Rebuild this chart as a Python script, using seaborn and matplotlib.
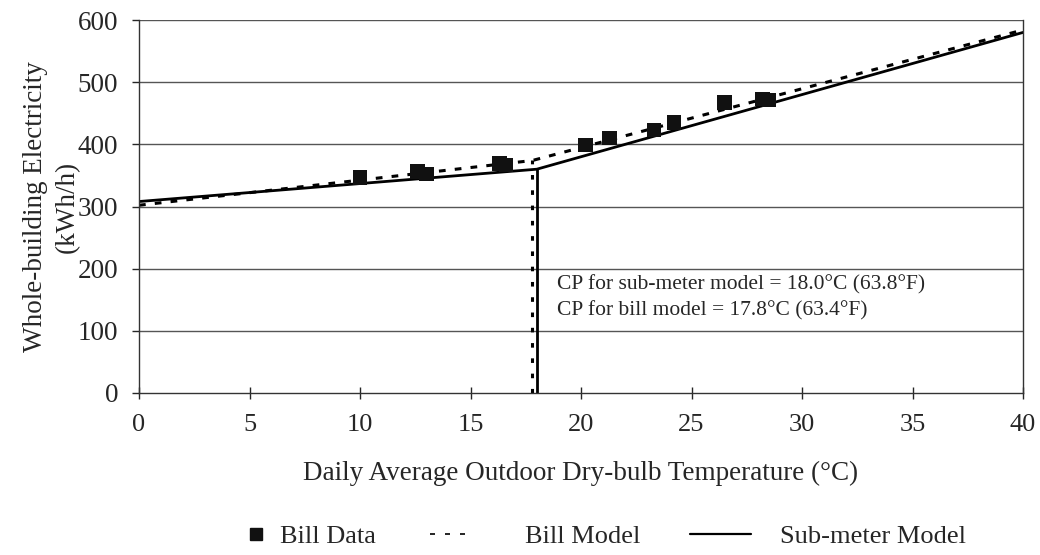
import matplotlib
matplotlib.use('Agg')
import matplotlib.pyplot as plt
import seaborn as sns
import pandas as pd
from matplotlib.lines import Line2D

# bill data points
temps = [10.0, 12.6, 13.0, 16.3, 16.6, 20.2, 21.3, 23.3, 24.2, 26.5, 28.2, 28.5]
kwh = [347, 356, 352, 369, 367, 399, 410, 423, 435, 467, 473, 471]

# change-point models: start, change point, end
sub_x = [0, 18.0, 40]
sub_y = [308, 360, 580]
bill_x = [0, 17.8, 40]
bill_y = [302, 374, 584]

x_ticks = [0, 5, 10, 15, 20, 25, 30, 35, 40]
y_ticks = [0, 100, 200, 300, 400, 500, 600]

sns.set_style('white')
plt.rcParams['font.family'] = ['Liberation Serif', 'DejaVu Serif']

fig = plt.figure(figsize=(10.4, 5.55), dpi=100)
ax = fig.add_axes([139/1040, 1-393/555, (1023-139)/1040, (393-20)/555])

df_data = pd.DataFrame({'T': temps, 'E': kwh})
df_sub = pd.DataFrame({'T': sub_x, 'E': sub_y})
df_bill = pd.DataFrame({'T': bill_x, 'E': bill_y})

for v in y_ticks[1:]:
    ax.axhline(v, color='#555555', lw=1.0, zorder=0)

sns.lineplot(data=df_sub, x='T', y='E', color='black', lw=2.0, ax=ax,
             estimator=None, sort=False)
sns.lineplot(data=df_bill, x='T', y='E', color='black', lw=2.2, ax=ax,
             estimator=None, sort=False, dashes=False, linestyle=(0, (2.2, 3)))
sns.scatterplot(data=df_data, x='T', y='E', marker='s', s=110, color='#111111',
                edgecolor='none', ax=ax, zorder=5)

# change-point verticals
ax.vlines(sub_x[1], 0, sub_y[1], color='black', lw=2.0)
ax.vlines(bill_x[1], 0, bill_y[1], color='black', lw=2.2, linestyles=(0, (1.5, 3.5)))

ax.text(18.9, 174, 'CP for sub-meter model = 18.0°C (63.8°F)', fontsize=15.5, va='center')
ax.text(18.9, 132, 'CP for bill model = 17.8°C (63.4°F)', fontsize=15.5, va='center')

ax.set_xlim(0, 40)
ax.set_ylim(0, 600)
ax.set_xticks(x_ticks)
ax.set_yticks(y_ticks)
ax.tick_params(axis='x', direction='inout', length=8, width=1, labelsize=19, pad=11)
ax.tick_params(axis='y', direction='out', length=5, width=1, labelsize=19.5, left=True, pad=10)
ax.tick_params(axis='x', bottom=True)
for s in ['left', 'bottom', 'right']:
    ax.spines[s].set_color('#333333')
    ax.spines[s].set_linewidth(1.0)
ax.spines['top'].set_visible(False)

ax.set_xlabel('Daily Average Outdoor Dry-bulb Temperature (°C)', fontsize=19.5, labelpad=18)
ax.set_ylabel('Whole-building Electricity\n(kWh/h)', fontsize=19.5, labelpad=-2,
              linespacing=1.4)

# legend: three single entries placed along the bottom
leg_y = 1 - 536/555
items = [
    (Line2D([], [], marker='s', color='#111111', ls='none', markersize=9),
     'Bill Data', 240, 1.2, 0.3),
    (Line2D([], [], color='black', lw=1.2, ls=(0, (3, 6))),
     'Bill Model', 430, 1.5, 2.1),
    (Line2D([], [], color='black', lw=1.6),
     'Sub-meter Model', 690, 2.3, 1.1),
]
for h, lab, x0, hl, pad in items:
    fig.legend([h], [lab], loc='center left', bbox_to_anchor=(x0/1040, leg_y),
               frameon=False, fontsize=19, handlelength=hl, handletextpad=pad,
               borderpad=0, borderaxespad=0)

fig.savefig('out.png', dpi=100)
